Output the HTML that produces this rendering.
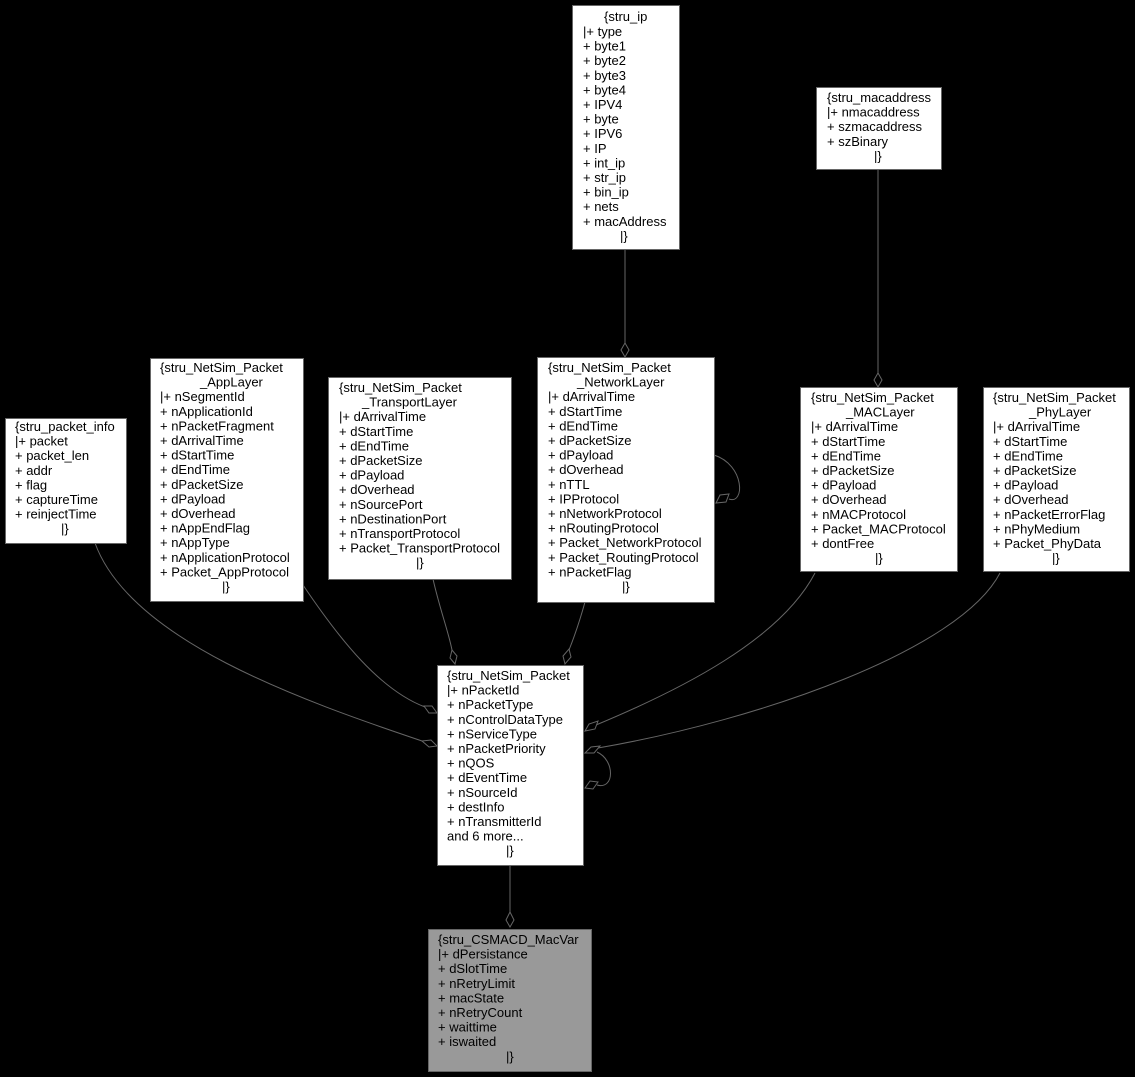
<!DOCTYPE html>
<html><head><meta charset="utf-8"><style>
html,body{margin:0;padding:0;background:#000;width:1135px;height:1077px;overflow:hidden}
svg text{font-family:"Liberation Sans",sans-serif;font-size:13px;fill:#000}
</style></head><body>
<svg width="1135" height="1077" viewBox="0 0 1135 1077" xmlns="http://www.w3.org/2000/svg">
<g fill="none" stroke="#666" stroke-width="1">
<path d="M625,249 V343"/>
<path d="M878,169 V373"/>
<path d="M714,455 C745,465 745,505 729,499"/>
<path d="M95,543 C130,640 300,700 425,742"/>
<path d="M303,585 C340,640 380,690 425,707"/>
<path d="M433,579 C440,610 448,630 452,650"/>
<path d="M585,602 C580,620 575,635 569,650"/>
<path d="M815,573 C780,640 680,690 596,725"/>
<path d="M1000,573 C960,650 760,720 598,748"/>
<path d="M597,752 C615,760 615,790 597,785"/>
<path d="M510,865 V912"/>
</g>
<g fill="#000" stroke="#666" stroke-width="1">
<polygon points="625,357 621,350 625,343 629,350"/>
<polygon points="878,387 874,380 878,373 882,380"/>
<polygon points="716,503 720,495 729,494 726,502"/>
<polygon points="437,746 429,747 422,741 431,740"/>
<polygon points="437,713 429,713 424,706 432,706"/>
<polygon points="455,664 450,658 452,650 457,656"/>
<polygon points="565,664 563,656 569,649 571,657"/>
<polygon points="585,731 589,724 598,721 595,729"/>
<polygon points="585,753 591,747 600,746 594,753"/>
<polygon points="585,788 590,781 598,782 593,789"/>
<polygon points="510,927 506,920 510,912 514,920"/>
</g>
<g stroke="#666" stroke-width="1">
<rect x="572.5" y="5.5" width="107" height="244" fill="#fff"/>
<rect x="816.5" y="87.5" width="125" height="82" fill="#fff"/>
<rect x="5.5" y="418.5" width="121" height="125" fill="#fff"/>
<rect x="150.5" y="358.5" width="153" height="243" fill="#fff"/>
<rect x="328.5" y="377.5" width="183" height="202" fill="#fff"/>
<rect x="537.5" y="357.5" width="177" height="245" fill="#fff"/>
<rect x="800.5" y="387.5" width="157" height="184" fill="#fff"/>
<rect x="983.5" y="387.5" width="146" height="184" fill="#fff"/>
<rect x="437.5" y="665.5" width="146" height="200" fill="#fff"/>
<rect x="428.5" y="929.5" width="163" height="142" fill="#999"/>
</g>
<text x="604" y="21">{stru_ip</text>
<text y="36"><tspan x="583">|+ type</tspan><tspan x="583" dy="14.6">+ byte1</tspan><tspan x="583" dy="14.6">+ byte2</tspan><tspan x="583" dy="14.6">+ byte3</tspan><tspan x="583" dy="14.6">+ byte4</tspan><tspan x="583" dy="14.6">+ IPV4</tspan><tspan x="583" dy="14.6">+ byte</tspan><tspan x="583" dy="14.6">+ IPV6</tspan><tspan x="583" dy="14.6">+ IP</tspan><tspan x="583" dy="14.6">+ int_ip</tspan><tspan x="583" dy="14.6">+ str_ip</tspan><tspan x="583" dy="14.6">+ bin_ip</tspan><tspan x="583" dy="14.6">+ nets</tspan><tspan x="583" dy="14.6">+ macAddress</tspan><tspan x="620" dy="14.6">|}</tspan></text>

<text y="102"><tspan x="827">{stru_macaddress</tspan><tspan x="827" dy="14.6">|+ nmacaddress</tspan><tspan x="827" dy="14.6">+ szmacaddress</tspan><tspan x="827" dy="14.6">+ szBinary</tspan><tspan x="874" dy="14.6">|}</tspan></text>

<text y="431"><tspan x="15">{stru_packet_info</tspan><tspan x="15" dy="14.6">|+ packet</tspan><tspan x="15" dy="14.6">+ packet_len</tspan><tspan x="15" dy="14.6">+ addr</tspan><tspan x="15" dy="14.6">+ flag</tspan><tspan x="15" dy="14.6">+ captureTime</tspan><tspan x="15" dy="14.6">+ reinjectTime</tspan><tspan x="61" dy="14.6">|}</tspan></text>

<text y="372"><tspan x="160">{stru_NetSim_Packet</tspan><tspan x="200" dy="14.6">_AppLayer</tspan><tspan x="160" dy="14.6">|+ nSegmentId</tspan><tspan x="160" dy="14.6">+ nApplicationId</tspan><tspan x="160" dy="14.6">+ nPacketFragment</tspan><tspan x="160" dy="14.6">+ dArrivalTime</tspan><tspan x="160" dy="14.6">+ dStartTime</tspan><tspan x="160" dy="14.6">+ dEndTime</tspan><tspan x="160" dy="14.6">+ dPacketSize</tspan><tspan x="160" dy="14.6">+ dPayload</tspan><tspan x="160" dy="14.6">+ dOverhead</tspan><tspan x="160" dy="14.6">+ nAppEndFlag</tspan><tspan x="160" dy="14.6">+ nAppType</tspan><tspan x="160" dy="14.6">+ nApplicationProtocol</tspan><tspan x="160" dy="14.6">+ Packet_AppProtocol</tspan><tspan x="222" dy="14.6">|}</tspan></text>

<text y="392"><tspan x="339">{stru_NetSim_Packet</tspan><tspan x="362" dy="14.6">_TransportLayer</tspan><tspan x="339" dy="14.6">|+ dArrivalTime</tspan><tspan x="339" dy="14.6">+ dStartTime</tspan><tspan x="339" dy="14.6">+ dEndTime</tspan><tspan x="339" dy="14.6">+ dPacketSize</tspan><tspan x="339" dy="14.6">+ dPayload</tspan><tspan x="339" dy="14.6">+ dOverhead</tspan><tspan x="339" dy="14.6">+ nSourcePort</tspan><tspan x="339" dy="14.6">+ nDestinationPort</tspan><tspan x="339" dy="14.6">+ nTransportProtocol</tspan><tspan x="339" dy="14.6">+ Packet_TransportProtocol</tspan><tspan x="416" dy="14.6">|}</tspan></text>

<text y="372"><tspan x="548">{stru_NetSim_Packet</tspan><tspan x="577" dy="14.6">_NetworkLayer</tspan><tspan x="548" dy="14.6">|+ dArrivalTime</tspan><tspan x="548" dy="14.6">+ dStartTime</tspan><tspan x="548" dy="14.6">+ dEndTime</tspan><tspan x="548" dy="14.6">+ dPacketSize</tspan><tspan x="548" dy="14.6">+ dPayload</tspan><tspan x="548" dy="14.6">+ dOverhead</tspan><tspan x="548" dy="14.6">+ nTTL</tspan><tspan x="548" dy="14.6">+ IPProtocol</tspan><tspan x="548" dy="14.6">+ nNetworkProtocol</tspan><tspan x="548" dy="14.6">+ nRoutingProtocol</tspan><tspan x="548" dy="14.6">+ Packet_NetworkProtocol</tspan><tspan x="548" dy="14.6">+ Packet_RoutingProtocol</tspan><tspan x="548" dy="14.6">+ nPacketFlag</tspan><tspan x="622" dy="14.6">|}</tspan></text>

<text y="402"><tspan x="811">{stru_NetSim_Packet</tspan><tspan x="846" dy="14.6">_MACLayer</tspan><tspan x="811" dy="14.6">|+ dArrivalTime</tspan><tspan x="811" dy="14.6">+ dStartTime</tspan><tspan x="811" dy="14.6">+ dEndTime</tspan><tspan x="811" dy="14.6">+ dPacketSize</tspan><tspan x="811" dy="14.6">+ dPayload</tspan><tspan x="811" dy="14.6">+ dOverhead</tspan><tspan x="811" dy="14.6">+ nMACProtocol</tspan><tspan x="811" dy="14.6">+ Packet_MACProtocol</tspan><tspan x="811" dy="14.6">+ dontFree</tspan><tspan x="875" dy="14.6">|}</tspan></text>

<text y="402"><tspan x="993">{stru_NetSim_Packet</tspan><tspan x="1029" dy="14.6">_PhyLayer</tspan><tspan x="993" dy="14.6">|+ dArrivalTime</tspan><tspan x="993" dy="14.6">+ dStartTime</tspan><tspan x="993" dy="14.6">+ dEndTime</tspan><tspan x="993" dy="14.6">+ dPacketSize</tspan><tspan x="993" dy="14.6">+ dPayload</tspan><tspan x="993" dy="14.6">+ dOverhead</tspan><tspan x="993" dy="14.6">+ nPacketErrorFlag</tspan><tspan x="993" dy="14.6">+ nPhyMedium</tspan><tspan x="993" dy="14.6">+ Packet_PhyData</tspan><tspan x="1052" dy="14.6">|}</tspan></text>

<text y="680"><tspan x="447">{stru_NetSim_Packet</tspan><tspan x="447" dy="14.6">|+ nPacketId</tspan><tspan x="447" dy="14.6">+ nPacketType</tspan><tspan x="447" dy="14.6">+ nControlDataType</tspan><tspan x="447" dy="14.6">+ nServiceType</tspan><tspan x="447" dy="14.6">+ nPacketPriority</tspan><tspan x="447" dy="14.6">+ nQOS</tspan><tspan x="447" dy="14.6">+ dEventTime</tspan><tspan x="447" dy="14.6">+ nSourceId</tspan><tspan x="447" dy="14.6">+ destInfo</tspan><tspan x="447" dy="14.6">+ nTransmitterId</tspan><tspan x="447" dy="14.6">and 6 more...</tspan><tspan x="506" dy="14.6">|}</tspan></text>

<text y="944"><tspan x="438">{stru_CSMACD_MacVar</tspan><tspan x="438" dy="14.6">|+ dPersistance</tspan><tspan x="438" dy="14.6">+ dSlotTime</tspan><tspan x="438" dy="14.6">+ nRetryLimit</tspan><tspan x="438" dy="14.6">+ macState</tspan><tspan x="438" dy="14.6">+ nRetryCount</tspan><tspan x="438" dy="14.6">+ waittime</tspan><tspan x="438" dy="14.6">+ iswaited</tspan><tspan x="506" dy="14.6">|}</tspan></text>
</svg>
</body></html>
